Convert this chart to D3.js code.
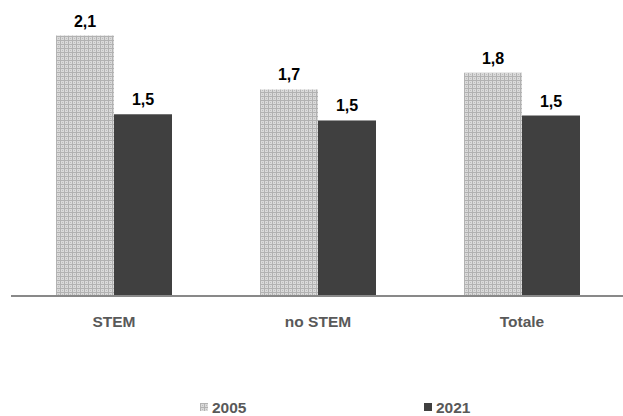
<!DOCTYPE html>
<html>
<head>
<meta charset="utf-8">
<script src="https://cdn.jsdelivr.net/npm/d3@7"></script>
<style>
  body { margin: 0; background: #fff; }
  svg { display: block; font-family: Arial, "Liberation Sans", sans-serif; }
</style>
</head>
<body>
<svg id="chart" width="623" height="416"></svg>
<script>
var categories = ['STEM', 'no STEM', 'Totale'];
var years = ['2005', '2021'];
var values2005 = [2.1, 1.665, 1.8];
var values2021 = [1.465, 1.415, 1.455];
var labels2005 = ['2,1', '1,7', '1,8'];
var labels2021 = ['1,5', '1,5', '1,5'];

var data = categories.map(function(c, i) {
    return [
        { cat: c, year: '2005', v: values2005[i], label: labels2005[i] },
        { cat: c, year: '2021', v: values2021[i], label: labels2021[i] }
    ];
});

var svg = d3.select('#chart');

// small checker pattern for the 2005 bars
var defs = svg.append('defs');
var pat = defs.append('pattern')
    .attr('id', 'checker')
    .attr('patternUnits', 'userSpaceOnUse')
    .attr('width', 4).attr('height', 4);
pat.append('rect').attr('width', 4).attr('height', 4).attr('fill', '#dadada');
pat.append('rect').attr('x', 0).attr('y', 0).attr('width', 4).attr('height', 1).attr('fill', '#b2b2b2');
pat.append('rect').attr('x', 0).attr('y', 0).attr('width', 1).attr('height', 4).attr('fill', '#b2b2b2');
pat.append('rect').attr('x', 2).attr('y', 2).attr('width', 1).attr('height', 1).attr('fill', '#bcbcbc');

var color = { '2005': 'url(#checker)', '2021': '#404040' };

var x0 = d3.scaleBand().domain(categories).range([12, 624]);
var x1 = d3.scaleBand().domain(years).range([44, 160]);
var y = d3.scaleLinear().domain([0, 2.1]).range([296, 35.5]);

var groups = svg.selectAll('g.grp')
    .data(data).enter()
    .append('g')
    .attr('class', 'grp')
    .attr('transform', function(d, i) { return 'translate(' + x0(categories[i]) + ',0)'; });

groups.selectAll('rect')
    .data(function(d) { return d; }).enter()
    .append('rect')
    .attr('x', function(d) { return x1(d.year); })
    .attr('y', function(d) { return y(d.v); })
    .attr('width', x1.bandwidth())
    .attr('height', function(d) { return y(0) - y(d.v); })
    .attr('fill', function(d) { return color[d.year]; });

groups.selectAll('text.val')
    .data(function(d) { return d; }).enter()
    .append('text')
    .attr('class', 'val')
    .attr('x', function(d) { return x1(d.year) + x1.bandwidth() / 2; })
    .attr('y', function(d) { return y(d.v) - 9; })
    .attr('text-anchor', 'middle')
    .attr('font-size', 16)
    .attr('font-weight', 'bold')
    .attr('fill', '#000')
    .text(function(d) { return d.label; });

// x axis
var xAxis = svg.append('g')
    .attr('transform', 'translate(0,' + y(0) + ')')
    .call(d3.axisBottom(x0).tickSize(0).tickPadding(20));
xAxis.select('.domain').attr('stroke', '#898989').attr('stroke-width', 2)
    .attr('d', 'M11,0H623');
xAxis.selectAll('text')
    .attr('font-size', 15.5)
    .attr('font-weight', 'bold')
    .attr('fill', '#595959')
    .attr('font-family', 'Arial, "Liberation Sans", sans-serif');

// legend
var legendX = { '2005': 200, '2021': 424 };
var legend = svg.selectAll('g.leg')
    .data(years).enter()
    .append('g')
    .attr('class', 'leg')
    .attr('transform', function(d) { return 'translate(' + legendX[d] + ',403)'; });
legend.append('rect')
    .attr('width', 8).attr('height', 8)
    .attr('fill', function(d) { return color[d]; });
legend.append('text')
    .attr('x', 12).attr('y', 10)
    .attr('font-size', 15.5)
    .attr('font-weight', 'bold')
    .attr('fill', '#595959')
    .text(function(d) { return d; });
</script>
</body>
</html>
